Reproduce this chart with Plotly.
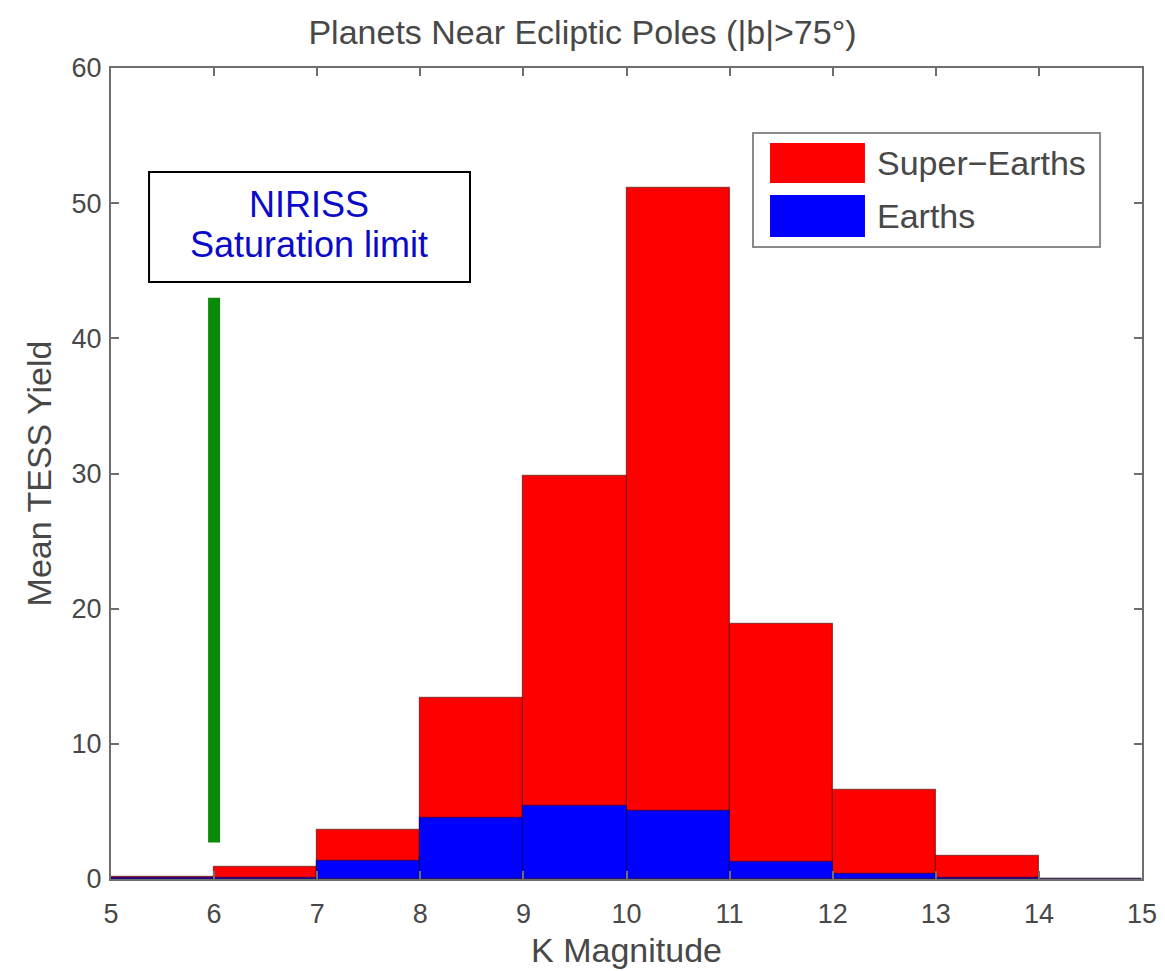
import plotly.graph_objects as go

# K-magnitude bins (one magnitude wide) and mean TESS yields per bin
bin_left = [5, 6, 7, 8, 9, 10, 11, 12, 13, 14]
super_earths = [0.15, 0.9, 3.6, 13.4, 29.8, 51.1, 18.9, 6.6, 1.7, 0.0]
earths = [0.05, 0.1, 1.3, 4.5, 5.4, 5.0, 1.25, 0.35, 0.05, 0.0]

x_ticks = [5, 6, 7, 8, 9, 10, 11, 12, 13, 14, 15]
y_ticks = [0, 10, 20, 30, 40, 50, 60]

# NIRISS saturation limit marker (K mag) and its vertical extent
niriss_limit_k = 6.0
limit_y_range = [2.7, 43.0]

bin_centers = [b + 0.5 for b in bin_left]

RED = "#ff0000"
BLUE = "#0000ff"
AXIS_GRAY = "#6e6e6e"
TEXT_GRAY = "#484848"
FONT = "Liberation Sans, Arial, sans-serif"

fig = go.Figure()
fig.add_trace(go.Bar(
    x=bin_centers, y=super_earths, width=1.0, name="Super\u2212Earths",
    marker=dict(color=RED, line=dict(color="rgba(90,0,0,0.6)", width=1.2)),
    showlegend=False,
))
fig.add_trace(go.Bar(
    x=bin_centers, y=earths, width=1.0, name="Earths",
    marker=dict(color=BLUE, line=dict(color="rgba(0,0,90,0.55)", width=1.2)),
    showlegend=False,
))

# green saturation-limit bar
fig.add_shape(type="line", xref="x", yref="y",
              x0=niriss_limit_k, x1=niriss_limit_k,
              y0=limit_y_range[0], y1=limit_y_range[1],
              line=dict(color="#0a8a0a", width=12))

# annotation box for the saturation limit
fig.add_shape(type="rect", xref="paper", yref="paper",
              x0=0.0369, x1=0.3482, y0=0.7361, y1=0.8718,
              line=dict(color="black", width=2), fillcolor="white", layer="above")
for txt, yp in [("NIRISS", 0.8311), ("Saturation limit", 0.7818)]:
    fig.add_annotation(text=txt, xref="paper", yref="paper", x=0.1925, y=yp,
                       xanchor="center", yanchor="middle", showarrow=False,
                       font=dict(family=FONT, size=36, color="#0a0ac8"))

# legend box with large swatches
fig.add_shape(type="rect", xref="paper", yref="paper",
              x0=0.6227, x1=0.9593, y0=0.7793, y1=0.9199,
              line=dict(color="#8a8a8a", width=2), fillcolor="white", layer="above")
legend_items = [("Super\u2212Earths", RED, 0.9075, 0.8582),
                ("Earths", BLUE, 0.8434, 0.7916)]
for label, color, y_top, y_bot in legend_items:
    fig.add_shape(type="rect", xref="paper", yref="paper",
                  x0=0.6392, x1=0.7313, y0=y_bot, y1=y_top,
                  line=dict(width=0), fillcolor=color, layer="above")
    fig.add_annotation(text=label, xref="paper", yref="paper",
                       x=0.741, y=(y_top + y_bot) / 2,
                       xanchor="left", yanchor="middle", showarrow=False,
                       font=dict(family=FONT, size=34, color=TEXT_GRAY))

axis_common = dict(
    showline=True, linecolor=AXIS_GRAY, linewidth=2, mirror="ticks",
    ticks="inside", ticklen=8, tickwidth=1.5, tickcolor=AXIS_GRAY,
    showgrid=False, zeroline=False, automargin=False,
    tickfont=dict(family=FONT, size=27, color=TEXT_GRAY),
)

fig.update_layout(
    width=1165, height=971,
    margin=dict(l=111, r=23, t=68, b=92),
    paper_bgcolor="white", plot_bgcolor="white",
    barmode="overlay", bargap=0,
    title=dict(text="Planets Near Ecliptic Poles (|b|>75\u00b0)",
               x=0.5, xanchor="center", y=0.967, yanchor="middle",
               font=dict(family=FONT, size=34, color=TEXT_GRAY)),
    xaxis=dict(range=[5, 15], tickvals=x_ticks, ticklabelstandoff=10, **axis_common,
               title=dict(text="K Magnitude", standoff=10,
                          font=dict(family=FONT, size=34, color=TEXT_GRAY))),
    yaxis=dict(range=[0, 60], tickvals=y_ticks, ticklabelstandoff=2, **axis_common,
               title=dict(text="Mean TESS Yield", standoff=10,
                          font=dict(family=FONT, size=34, color=TEXT_GRAY))),
)

fig.write_html("out.html")
